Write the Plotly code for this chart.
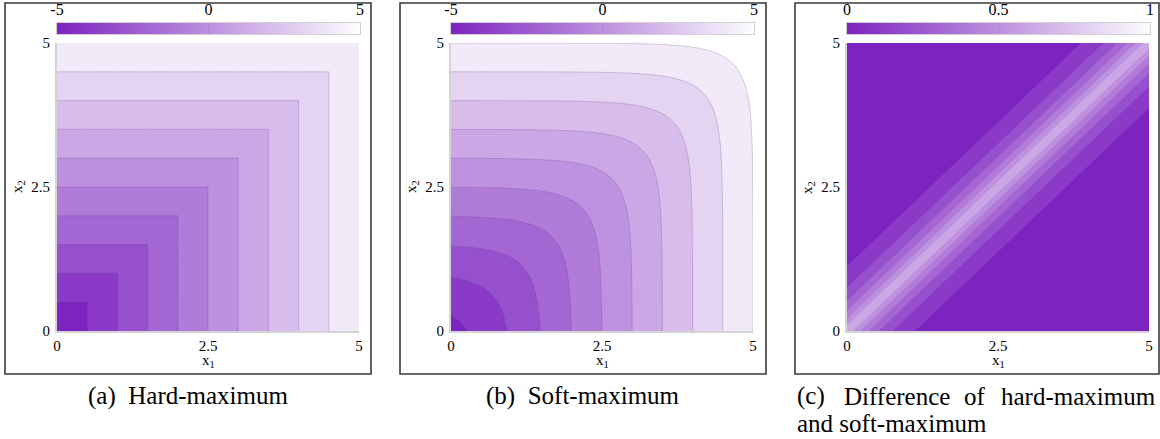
import numpy as np
import plotly.graph_objects as go

W, H = 1160, 439

# ---------------- data ----------------
# input grid (axis units 0..5) and corresponding value scale (-5..5)
x1_vals = np.linspace(0, 5, 251)
x2_vals = np.linspace(0, 5, 251)
value_lo, value_hi = -5.0, 5.0
softness = 1.0  # temperature of the log-sum-exp soft maximum (value units)

u1 = value_lo + (value_hi - value_lo) * x1_vals / 5.0
u2 = value_lo + (value_hi - value_lo) * x2_vals / 5.0
U1, U2 = np.meshgrid(u1, u2)
hard_max = np.maximum(U1, U2)
soft_max = softness * np.logaddexp(U1 / softness, U2 / softness)
difference = soft_max - hard_max

# contour levels
main_levels = dict(start=-4, end=4, size=1)
soft_levels = dict(start=-4, end=5, size=1)
diff_levels = dict(start=0.1, end=0.9, size=0.1)

# tick labels
axis_ticks = [0, 2.5, 5]
axis_ticktext = ["0", "2.5", "5"]
cbar_main_ticks = [-5, 0, 5]
cbar_main_text = ["-5", "0", "5"]
cbar_diff_ticks = [0, 0.5, 1]
cbar_diff_text = ["0", "0.5", "1"]

captions = ["(a)  Hard-maximum", "(b)  Soft-maximum"]
caption_c_line1 = ["(c)", "Difference", "of", "hard-maximum"]
caption_c_line2 = "and soft-maximum"

# ---------------- style ----------------
DARK = (125, 36, 192)
WHITE = (255, 255, 255)


def mix(f):
    c = [round(DARK[i] + f * (WHITE[i] - DARK[i])) for i in range(3)]
    return f"rgb({c[0]},{c[1]},{c[2]})"


cs_full = [[0, mix(0.0)], [1, mix(0.985)]]
cs_09 = [[0, mix(0.0)], [1, mix(0.9)]]
cs_soft = [[0, mix(0.0)], [1, mix(1.0)]]

FONT = "Liberation Serif"


def px(v):
    return v / W


def py(v):
    return 1 - v / H


panel_x = [(57, 359), (451, 753), (847, 1149)]
plot_top, plot_bot = 43, 331
cb_top, cb_bot = 23, 34
frames = [(5, 371), (400, 766), (795, 1159)]
frame_top, frame_bot = 3, 374

fig = go.Figure()

line_col = "rgba(95,55,135,0.28)"
fig.add_trace(go.Contour(
    x=x1_vals, y=x2_vals, z=hard_max, autocontour=False,
    contours=dict(coloring="fill", **main_levels),
    colorscale=cs_09, showscale=False, hoverinfo="skip",
    line=dict(width=0.9, color=line_col, smoothing=0),
    xaxis="x", yaxis="y"))
fig.add_trace(go.Contour(
    x=x1_vals, y=x2_vals, z=soft_max, autocontour=False,
    contours=dict(coloring="fill", **soft_levels),
    colorscale=cs_soft, showscale=False, hoverinfo="skip",
    line=dict(width=0.9, color=line_col, smoothing=1),
    xaxis="x2", yaxis="y2"))
fig.add_trace(go.Contour(
    x=x1_vals, y=x2_vals, z=difference, autocontour=False,
    contours=dict(coloring="fill", **diff_levels),
    colorscale=cs_09, showscale=False, hoverinfo="skip",
    line=dict(width=0, color="rgba(0,0,0,0)", smoothing=1),
    xaxis="x3", yaxis="y3"))

# colour bars drawn as gradient strips
grad_main = np.linspace(-5, 5, 300)
grad_diff = np.linspace(0, 1, 300)
for k, (g, lo, hi) in enumerate([(grad_main, -5, 5), (grad_main, -5, 5), (grad_diff, 0, 1)]):
    fig.add_trace(go.Heatmap(
        x=g, y=[0], z=[g], zmin=lo, zmax=hi, colorscale=cs_full,
        showscale=False, hoverinfo="skip",
        xaxis=f"x{k+4}", yaxis=f"y{k+4}"))

layout = dict(
    width=W, height=439, autosize=False,
    margin=dict(l=0, r=0, t=0, b=0, autoexpand=False),
    paper_bgcolor="white", plot_bgcolor="white",
    font=dict(family=FONT, color="black", size=15),
    showlegend=False,
)

for i, (xa, xb) in enumerate(panel_x):
    n = "" if i == 0 else str(i + 1)
    layout[f"xaxis{n}"] = dict(
        domain=[px(xa), px(xb)], range=[0, 5], anchor=f"y{n}",
        tickvals=axis_ticks, ticktext=axis_ticktext, ticks="",
        showgrid=False, zeroline=False, showline=True,
        linecolor="#d4d4d4", linewidth=2, tickfont=dict(size=15),
        ticklabelstandoff=0, fixedrange=True, automargin=False)
    layout[f"yaxis{n}"] = dict(
        domain=[py(plot_bot), py(plot_top)], range=[0, 5], anchor=f"x{n}",
        tickvals=axis_ticks, ticktext=axis_ticktext, ticks="",
        showgrid=False, zeroline=False, showline=True,
        linecolor="#d4d4d4", linewidth=2, tickfont=dict(size=15),
        ticklabelstandoff=2, fixedrange=True, automargin=False)
    m = str(i + 4)
    if i < 2:
        rng, tv, tt = [-5, 5], cbar_main_ticks, cbar_main_text
    else:
        rng, tv, tt = [0, 1], cbar_diff_ticks, cbar_diff_text
    layout[f"xaxis{m}"] = dict(
        domain=[px(xa), px(xb + 1)], range=rng, anchor=f"y{m}", side="top",
        tickvals=tv, ticktext=tt, ticks="inside", ticklen=11, tickwidth=1,
        tickcolor="rgba(120,80,160,0.15)",
        showgrid=False, zeroline=False, showline=True, mirror=True,
        linecolor="#d0d0d0", linewidth=1, tickfont=dict(size=16),
        ticklabelstandoff=1, fixedrange=True, automargin=False)
    layout[f"yaxis{m}"] = dict(
        domain=[py(cb_bot), py(cb_top)], range=[-0.5, 0.5], anchor=f"x{m}",
        showticklabels=False, ticks="", showgrid=False, zeroline=False,
        showline=True, mirror=True, linecolor="#d0d0d0", linewidth=1,
        fixedrange=True, automargin=False)

shapes = []
for (fa, fb) in frames:
    shapes.append(dict(type="rect", xref="paper", yref="paper",
                       x0=px(fa), x1=px(fb), y0=py(frame_bot), y1=py(frame_top),
                       line=dict(color="#3a3a3a", width=1.6), fillcolor="rgba(0,0,0,0)"))
layout["shapes"] = shapes

ann = []
for (xa, xb) in panel_x:
    ann.append(dict(x=px((xa + xb) / 2), y=py(361), xref="paper", yref="paper",
                    text="x<sub>1</sub>", showarrow=False, font=dict(size=15),
                    xanchor="center", yanchor="middle"))
    ann.append(dict(x=px(xa - 39), y=py((plot_top + plot_bot) / 2), xref="paper", yref="paper",
                    text="x<sub>2</sub>", showarrow=False, font=dict(size=15),
                    textangle=-90, xanchor="center", yanchor="middle"))

cap_font = dict(size=25, family=FONT, color="black")
ann.append(dict(x=px(188), y=py(396), xref="paper", yref="paper", text=captions[0],
                showarrow=False, font=cap_font, xanchor="center", yanchor="middle"))
ann.append(dict(x=px(583), y=py(396), xref="paper", yref="paper", text=captions[1],
                showarrow=False, font=cap_font, xanchor="center", yanchor="middle"))
word_pos = [(795, "left"), (842, "left"), (962, "left"), (1158, "right")]
for word, (xp, anc) in zip(caption_c_line1, word_pos):
    ann.append(dict(x=px(xp), y=py(396), xref="paper", yref="paper", text=word,
                    showarrow=False, font=cap_font, xanchor=anc, yanchor="middle"))
ann.append(dict(x=px(795), y=py(423), xref="paper", yref="paper", text=caption_c_line2,
                showarrow=False, font=cap_font, xanchor="left", yanchor="middle"))
layout["annotations"] = ann

fig.update_layout(**layout)
fig.write_html("out.html")
